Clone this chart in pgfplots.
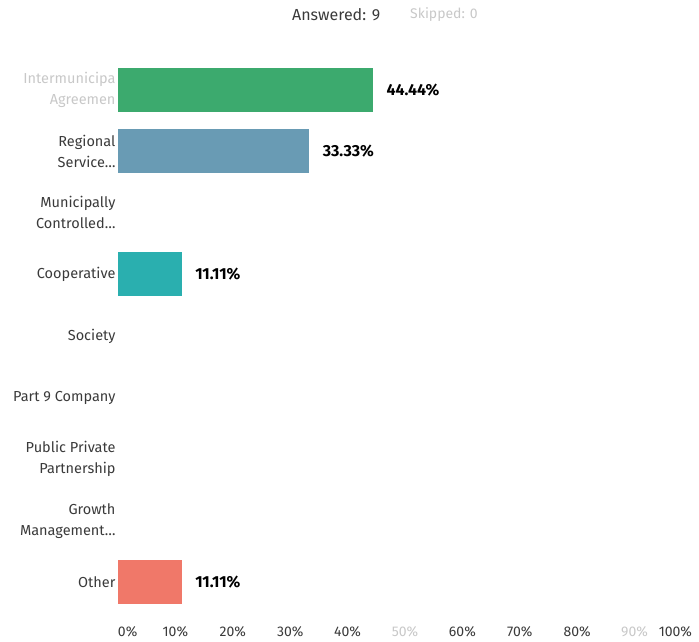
\documentclass[border=0pt]{standalone}
\usepackage{pgfplots}
\pgfplotsset{compat=1.18}
\usepackage{fontspec}
\setmainfont{Fira Sans}

\definecolor{smgreen}{HTML}{3CAA6E}
\definecolor{smblue}{HTML}{699BB4}
\definecolor{smteal}{HTML}{2AAFAF}
\definecolor{smred}{HTML}{F07869}
\definecolor{lbl}{HTML}{3A3A3A}
\definecolor{faint}{HTML}{C8C8C8}

\begin{document}
\begin{tikzpicture}
\begin{axis}[
    name=ax,
    scale only axis,
    width=574pt, height=554pt,
    xbar, bar width=44pt,
    xmin=0, xmax=100,
    ymin=-0.5, ymax=8.5,
    y dir=reverse,
    clip=false,
    axis line style={draw=none},
    major tick length=0pt,
    /pgf/number format/assume math mode=true,
    xtick={0,10,20,30,40,50,60,70,80,90,100},
    xticklabels={\rlap{0\%},10\%,20\%,30\%,40\%,\textcolor{faint}{50\%},60\%,70\%,80\%,\textcolor{faint}{90\%},\llap{100\%}},
    xticklabel style={font=\fontsize{14}{16}\selectfont, text=lbl, yshift=-10pt},
    ytick={0,1,2,3,4,5,6,7,8},
    yticklabels={
        {\color{faint}Intermunicipa\\\color{faint}Agreemen},
        {Regional\\Service\dots},
        {Municipally\\Controlled\dots},
        Cooperative,
        Society,
        Part 9 Company,
        {Public Private\\Partnership},
        {Growth\\Management\dots},
        Other},
    yticklabel style={font=\fontsize{14.5}{21}\selectfont, text=lbl, align=right, xshift=1pt},
    nodes near coords={\pgfmathprintnumber{\pgfplotspointmeta}\%},
    nodes near coords style={font=\bfseries\fontsize{16}{18}\selectfont, text=black, anchor=west, xshift=10pt,
        /pgf/number format/.cd, fixed, precision=2, fixed zerofill, assume math mode=true},
]
\addplot[draw=none, fill=smgreen, bar shift=0pt] coordinates {(44.44,0)};
\addplot[draw=none, fill=smblue, bar shift=0pt] coordinates {(33.33,1)};
\addplot[draw=none, fill=smteal, bar shift=0pt] coordinates {(11.11,3)};
\addplot[draw=none, fill=smred, bar shift=0pt] coordinates {(11.11,8)};
\end{axis}
\node[anchor=west, font=\fontsize{16}{18}\selectfont, text=lbl, inner sep=0pt]
    at ([xshift=174pt,yshift=44pt]ax.north west) {Answered: 9};
\node[anchor=west, font=\fontsize{14}{16}\selectfont, text=faint, inner sep=0pt]
    at ([xshift=292pt,yshift=44pt]ax.north west) {Skipped: 0};
\pgfresetboundingbox
\path ([xshift=-118pt,yshift=-29pt]ax.south west) rectangle ([xshift=7pt,yshift=59pt]ax.north east);
\end{tikzpicture}
\end{document}
